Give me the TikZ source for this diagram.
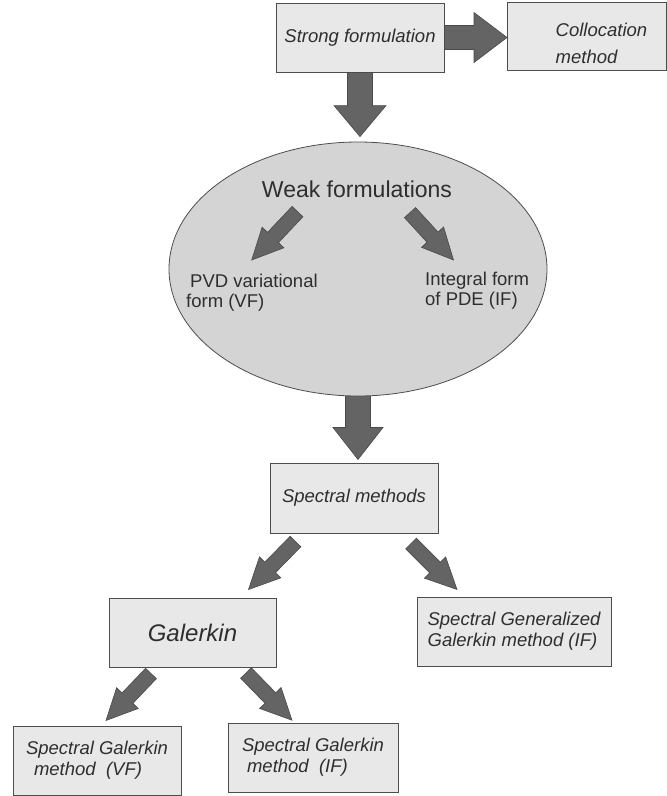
\documentclass[tikz,border=0pt]{standalone}
\usepackage{fontspec}
\setmainfont{Liberation Sans}
\usetikzlibrary{calc,shapes.geometric}
\definecolor{boxfill}{HTML}{E8E8E8}
\definecolor{ellfill}{HTML}{D4D4D4}
\definecolor{edgecol}{HTML}{4D4D4D}
\definecolor{arrfill}{HTML}{646464}
\definecolor{arredge}{HTML}{4A4A4A}
\definecolor{txtcol}{HTML}{2E2E2E}
% #1 tail, #2 tip, #3 half shaft width, #4 half head width, #5 head length
\newcommand{\blockarrow}[5]{%
  \coordinate (ba-h) at ($(#2)!#5pt!(#1)$);
  \filldraw[blockarr]
    ($(#1)!#3pt!90:(#2)$) -- ($(ba-h)!#3pt!90:(#2)$) -- ($(ba-h)!#4pt!90:(#2)$)
    -- (#2) --
    ($(ba-h)!#4pt!-90:(#2)$) -- ($(ba-h)!#3pt!-90:(#2)$) -- ($(#1)!#3pt!-90:(#2)$) -- cycle;
}
\begin{document}
\begin{tikzpicture}[x=1pt,y=-1pt,
  boxnode/.style={draw=edgecol, fill=boxfill, line width=1pt, inner sep=0pt,
    font=\fontsize{18.5}{21}\selectfont\itshape, text=txtcol, align=left},
  blockarr/.style={fill=arrfill, draw=arredge, line width=0.6pt, line join=miter},
  plaintext/.style={text=txtcol, font=\fontsize{18.5}{20}\selectfont, align=left, inner sep=0pt}]
\useasboundingbox (0,0) rectangle (667,796);

% ellipse
\node[ellipse, draw=edgecol, line width=0.8pt, fill=ellfill, minimum width=378pt,
      minimum height=254pt, inner sep=0pt] (weak) at (358,269) {};
\node[plaintext, font=\fontsize{23}{26}\selectfont] (weaktitle) at (357,189.6) {Weak formulations};
\node[plaintext, anchor=west] (pvd) at (186,292.3) {\hspace*{4pt}PVD variational\\form (VF)};
\node[plaintext, anchor=west] (intf) at (425,291.2) {Integral form\\of PDE (IF)};

% boxes
\node[boxnode, minimum width=168pt, minimum height=69pt] (strong) at (360,37.5) {Strong formulation};
\node[boxnode, minimum width=159pt, minimum height=68pt] (coll) at (587,36) {};
\node[plaintext, font=\fontsize{18.5}{27}\selectfont\itshape, anchor=west] (colltext) at (555.5,43.7) {Collocation\\method};
\node[boxnode, minimum width=168pt, minimum height=70pt] (spec) at (354,498) {Spectral methods};
\node[boxnode, font=\fontsize{24}{28}\selectfont\itshape, minimum width=167pt, minimum height=69pt] (gal) at (192.5,632.5) {Galerkin};
\node[boxnode, minimum width=194pt, minimum height=69pt] (sgg) at (514,631.5) {Spectral Generalized\\Galerkin method (IF)};
\node[boxnode, minimum width=168pt, minimum height=69pt] (sgvf) at (97,760.5) {Spectral Galerkin\\\hspace*{8pt}method\ \ (VF)};
\node[boxnode, minimum width=170pt, minimum height=69pt] (sgif) at (313,757.5) {Spectral Galerkin\\\hspace*{5pt}method\ \ (IF)};

% connectors (block arrows)
\coordinate (t1) at (strong.east -| coll.west);
\blockarrow{strong.east}{t1}{12}{25}{33}
\coordinate (t2) at ($(strong.south |- weak.north)+(0,-5)$);
\coordinate (s2) at (strong.south -| t2);
\blockarrow{s2}{t2}{12.5}{26}{31}
\coordinate (t3) at ($(weak.south |- spec.north)+(0,-3)$);
\blockarrow{weak.south}{t3}{12.5}{25}{32}

\coordinate (s4) at ($(weaktitle.center)+(-59.5,22)$);
\coordinate (t4) at ($(weaktitle.center)+(-105.3,70.4)$);
\blockarrow{s4}{t4}{7.5}{15}{31}
\coordinate (s5) at ($(weaktitle.center)+(53,23)$);
\coordinate (t5) at ($(weaktitle.center)+(96.5,70.4)$);
\blockarrow{s5}{t5}{7.5}{15}{31}

\coordinate (s6) at ($(spec.south)+(-58.5,8)$);
\coordinate (t6) at ($(gal.north)+(56,-8)$);
\blockarrow{s6}{t6}{7.5}{15}{31}
\coordinate (s7) at ($(spec.south)+(57,10)$);
\coordinate (t7) at ($(sgg.north)+(-57,-7)$);
\blockarrow{s7}{t7}{7.5}{15}{31}
\coordinate (s8) at ($(gal.south)+(-41.5,6)$);
\coordinate (t8) at ($(sgvf.north)+(9,-5)$);
\blockarrow{s8}{t8}{7.5}{15}{31}
\coordinate (s9) at ($(gal.south)+(53.5,5.5)$);
\coordinate (t9) at ($(sgif.north)+(-21,-2.3)$);
\blockarrow{s9}{t9}{7.5}{15}{31}
\end{tikzpicture}
\end{document}
